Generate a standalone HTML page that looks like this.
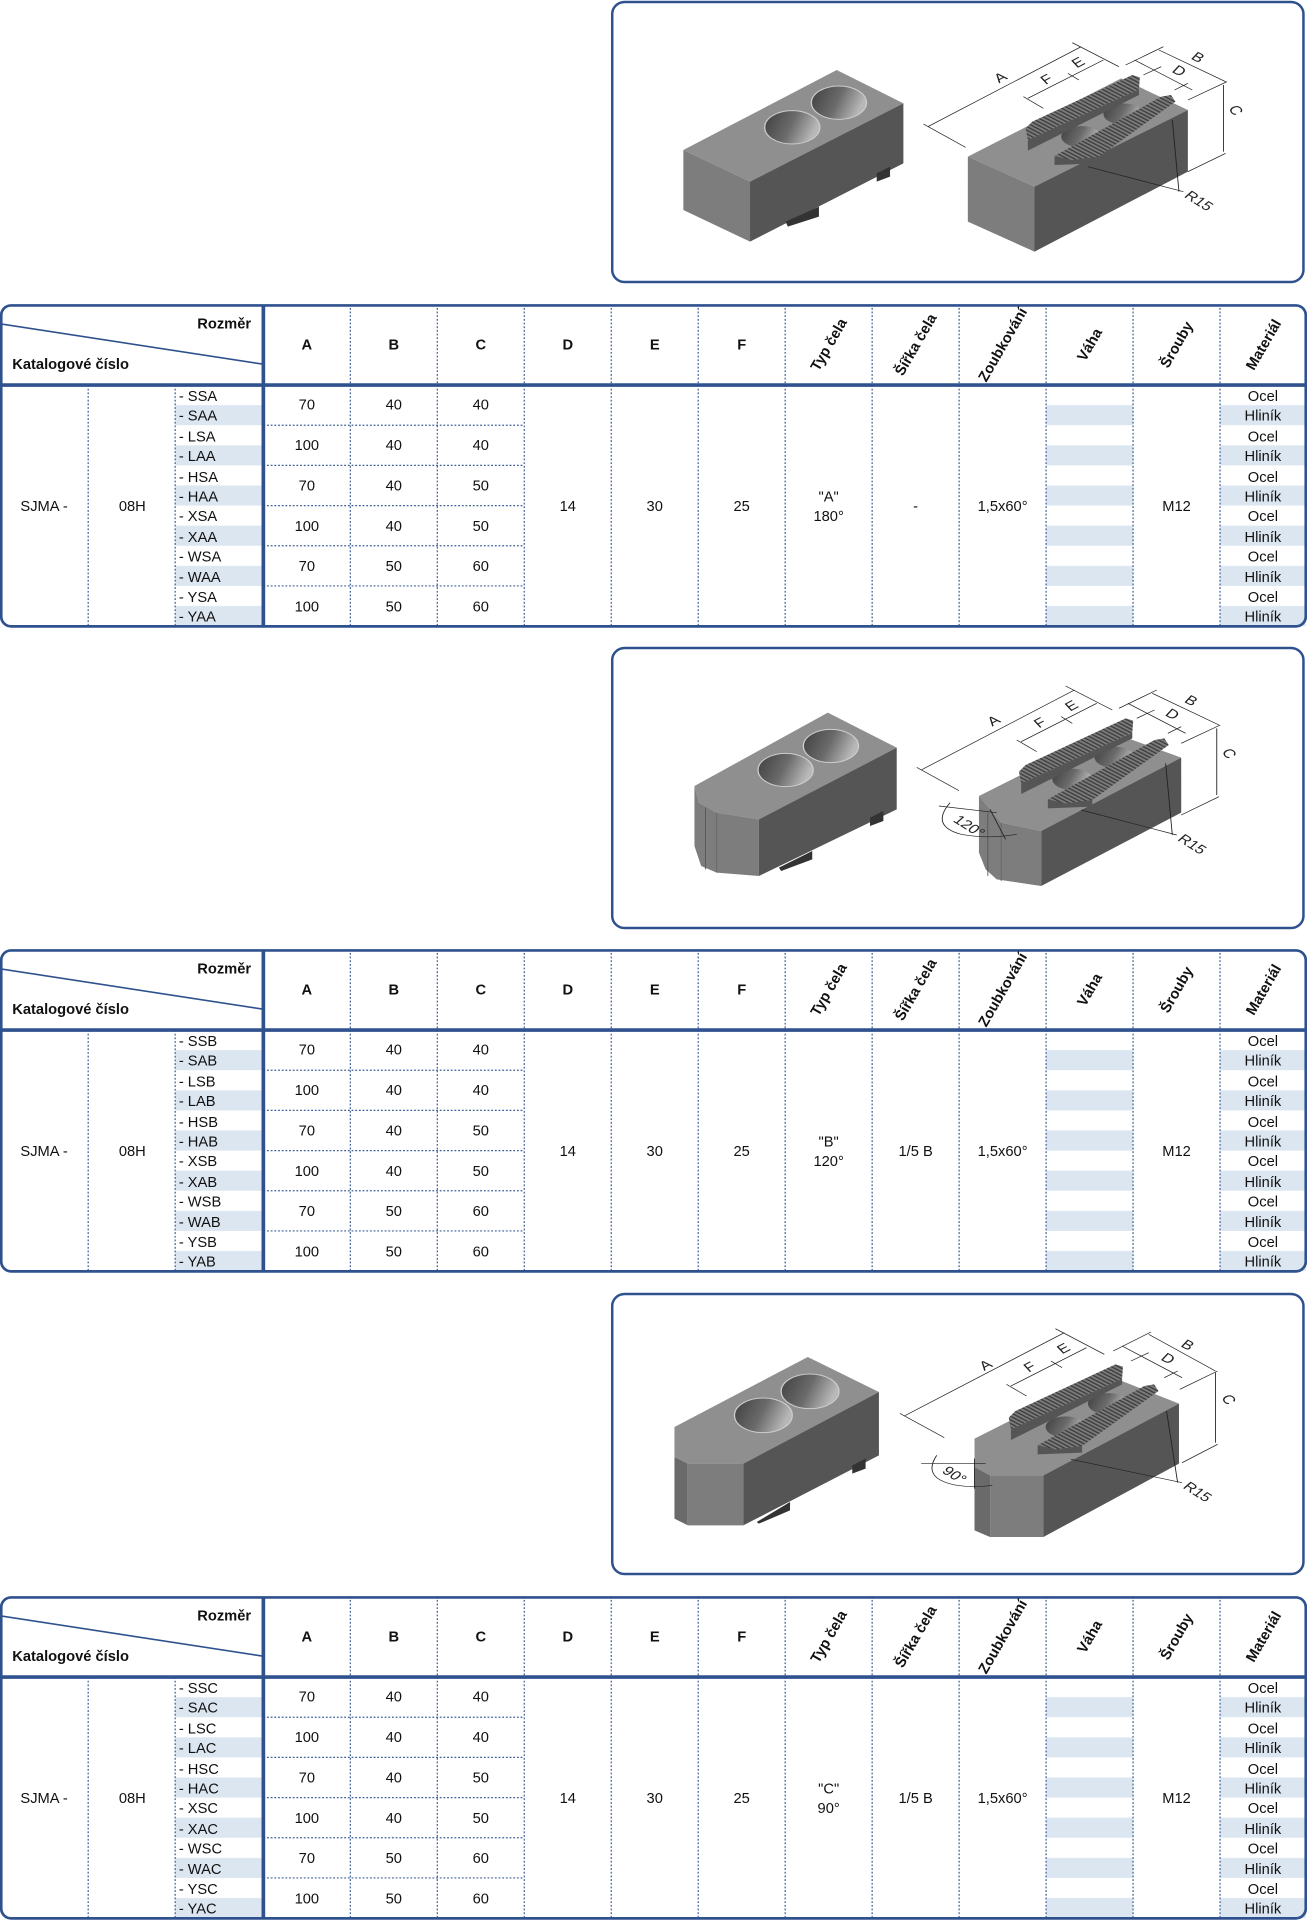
<!DOCTYPE html>
<html><head><meta charset="utf-8"><style>
html,body{margin:0;padding:0;background:#fff}
body{width:1307px;height:1920px;position:relative;overflow:hidden}
svg{position:absolute;left:0}
.t{font-family:"Liberation Sans Narrow","Liberation Sans",sans-serif;font-size:12px;fill:#111}
.b{font-weight:bold}
.dim{font-family:"Liberation Sans",sans-serif;font-size:38px;fill:#222}
</style></head><body>

<svg width="0" height="0" style="position:absolute">
<defs>
<pattern id="stripe" patternUnits="userSpaceOnUse" width="1067" height="32.8" y="66"><rect x="0" y="16.4" width="1067" height="16.4" fill="#dce6f1"/></pattern>
<pattern id="teeth" patternUnits="userSpaceOnUse" width="9" height="9" patternTransform="rotate(-55)"><rect width="9" height="9" fill="#7a7a7a"/><rect width="3.5" height="9" fill="#3a3a3a"/></pattern>
<linearGradient id="hole" x1="0" y1="0" x2="1" y2="0.3"><stop offset="0" stop-color="#3f3f3f"/><stop offset="0.55" stop-color="#6a6a6a"/><stop offset="1" stop-color="#b8b8b8"/></linearGradient>
</defs></svg>

<!-- ================= BOX 1 ================= -->
<svg style="top:0;left:610px" width="697" height="290" viewBox="0 0 1568 870" preserveAspectRatio="none">
<rect x="5" y="6" width="1555" height="840" rx="28" ry="36" fill="#fff" stroke="#2f528f" stroke-width="2.5" vector-effect="non-scaling-stroke"/>
<polygon points="165,450 510,210 660,310 315,545" fill="#8f8f8f"/>
<polygon points="165,450 315,545 315,725 165,630" fill="#7d7d7d"/>
<polygon points="315,545 660,310 660,490 315,725" fill="#555"/>
<polygon points="395,665 470,620 470,650 400,680" fill="#333"/>
<polygon points="600,520 630,500 630,530 600,545" fill="#333"/>
<ellipse cx="410" cy="382" rx="62" ry="50" fill="url(#hole)" stroke="#ccc" stroke-width="3"/>
<ellipse cx="515" cy="308" rx="62" ry="50" fill="url(#hole)" stroke="#ccc" stroke-width="3"/>
<polygon points="805,470 1150,235 1300,330 955,560" fill="#8f8f8f"/>
<polygon points="805,470 955,560 955,755 805,665" fill="#7d7d7d"/>
<polygon points="955,560 1300,330 1300,515 955,755" fill="#555"/>
<ellipse cx="1060" cy="410" rx="45" ry="32" fill="url(#hole)"/>
<ellipse cx="1155" cy="342" rx="45" ry="32" fill="url(#hole)"/>
<polygon points="940,420 1190,268 1190,285 940,452" fill="#555"/>
<polygon points="935,385 950,365 1175,225 1192,232 1190,268 940,420" fill="url(#teeth)"/>
<polygon points="1000,470 1100,470 1100,490 1000,495" fill="#555"/>
<polygon points="1000,468 1240,290 1262,285 1272,305 1100,470 1040,480" fill="url(#teeth)"/>
<g stroke="#222" stroke-width="2" fill="none">
<line x1="715" y1="380" x2="1060" y2="140"/><line x1="705" y1="372" x2="800" y2="442"/><line x1="1040" y1="128" x2="1145" y2="200"/>
<line x1="940" y1="295" x2="1110" y2="180"/><line x1="930" y1="290" x2="975" y2="325"/><line x1="1030" y1="220" x2="1055" y2="240"/>
<line x1="1235" y1="150" x2="1385" y2="245"/><line x1="1160" y1="195" x2="1245" y2="140"/>
<line x1="1180" y1="180" x2="1310" y2="270"/><line x1="1200" y1="225" x2="1240" y2="200"/><line x1="1270" y1="270" x2="1300" y2="250"/>
<line x1="1380" y1="255" x2="1380" y2="455"/><line x1="1300" y1="515" x2="1385" y2="460"/><line x1="1300" y1="300" x2="1388" y2="245"/>
<line x1="1290" y1="575" x2="1075" y2="500"/><line x1="1280" y1="575" x2="1265" y2="360"/>
</g>
<text class="dim" transform="translate(875,250) rotate(-35)">A</text>
<text class="dim" transform="translate(980,255) rotate(-35)">F</text>
<text class="dim" transform="translate(1050,205) rotate(-35)">E</text>
<text class="dim" transform="translate(1305,175) rotate(35)">B</text>
<text class="dim" transform="translate(1262,215) rotate(35)">D</text>
<text class="dim" transform="translate(1390,325) rotate(60)">C</text>
<text class="dim" transform="translate(1290,590) rotate(40)">R15</text>
</svg>

<!-- ================= BOX 2 ================= -->
<svg style="top:646px;left:610px" width="697" height="290" viewBox="0 0 1568 870" preserveAspectRatio="none">
<rect x="5" y="6" width="1555" height="840" rx="28" ry="36" fill="#fff" stroke="#2f528f" stroke-width="2.5" vector-effect="non-scaling-stroke"/>
<polygon points="190,420 490,200 645,305 335,520 240,500 200,470" fill="#8f8f8f"/>
<polygon points="190,420 200,470 240,500 335,520 335,690 240,680 205,660 190,600" fill="#7d7d7d"/>
<line x1="215" y1="485" x2="215" y2="670" stroke="#555" stroke-width="2"/><line x1="240" y1="500" x2="240" y2="680" stroke="#666" stroke-width="2"/>
<polygon points="335,520 645,305 645,490 335,690" fill="#555"/>
<polygon points="380,665 455,615 455,640 385,675" fill="#333"/>
<polygon points="585,515 615,495 615,525 585,540" fill="#333"/>
<ellipse cx="395" cy="372" rx="62" ry="50" fill="url(#hole)" stroke="#ccc" stroke-width="3"/>
<ellipse cx="497" cy="300" rx="62" ry="50" fill="url(#hole)" stroke="#ccc" stroke-width="3"/>
<polygon points="830,450 1120,255 1285,335 970,555 880,530" fill="#8f8f8f"/>
<polygon points="830,450 880,530 970,555 970,720 870,700 845,670 830,620" fill="#7d7d7d"/>
<line x1="850" y1="500" x2="850" y2="690" stroke="#555" stroke-width="2"/><line x1="880" y1="530" x2="880" y2="705" stroke="#666" stroke-width="2"/>
<polygon points="970,555 1285,335 1285,500 970,720" fill="#555"/>
<ellipse cx="1040" cy="400" rx="45" ry="32" fill="url(#hole)"/>
<ellipse cx="1135" cy="334" rx="45" ry="32" fill="url(#hole)"/>
<g transform="translate(-15,-8)">
<polygon points="940,420 1190,268 1190,285 940,452" fill="#555"/>
<polygon points="935,385 950,365 1175,225 1192,232 1190,268 940,420" fill="url(#teeth)"/>
<polygon points="1000,470 1100,470 1100,490 1000,495" fill="#555"/>
<polygon points="1000,468 1240,290 1262,285 1272,305 1100,470 1040,480" fill="url(#teeth)"/>
<g stroke="#222" stroke-width="2" fill="none">
<line x1="715" y1="380" x2="1060" y2="140"/><line x1="705" y1="372" x2="800" y2="442"/><line x1="1040" y1="128" x2="1145" y2="200"/>
<line x1="940" y1="295" x2="1110" y2="180"/><line x1="930" y1="290" x2="975" y2="325"/><line x1="1030" y1="220" x2="1055" y2="240"/>
<line x1="1235" y1="150" x2="1385" y2="245"/><line x1="1160" y1="195" x2="1245" y2="140"/>
<line x1="1180" y1="180" x2="1310" y2="270"/><line x1="1200" y1="225" x2="1240" y2="200"/><line x1="1270" y1="270" x2="1300" y2="250"/>
<line x1="1380" y1="255" x2="1380" y2="455"/><line x1="1300" y1="515" x2="1385" y2="460"/><line x1="1300" y1="300" x2="1388" y2="245"/>
<line x1="1290" y1="575" x2="1075" y2="500"/><line x1="1280" y1="575" x2="1265" y2="360"/>
</g>
<text class="dim" transform="translate(875,250) rotate(-35)">A</text>
<text class="dim" transform="translate(980,255) rotate(-35)">F</text>
<text class="dim" transform="translate(1050,205) rotate(-35)">E</text>
<text class="dim" transform="translate(1305,175) rotate(35)">B</text>
<text class="dim" transform="translate(1262,215) rotate(35)">D</text>
<text class="dim" transform="translate(1390,325) rotate(60)">C</text>
<text class="dim" transform="translate(1290,590) rotate(40)">R15</text>
</g>
<g stroke="#222" stroke-width="2" fill="none">
<path d="M765,470 Q720,540 790,565 Q850,580 915,565"/>
<line x1="740" y1="480" x2="870" y2="500"/><line x1="855" y1="490" x2="890" y2="580"/>
</g>
<text class="dim" transform="translate(770,525) rotate(40)">120°</text>
</svg>

<!-- ================= BOX 3 ================= -->
<svg style="top:1292px;left:610px" width="697" height="290" viewBox="0 0 1568 870" preserveAspectRatio="none">
<rect x="5" y="6" width="1555" height="840" rx="28" ry="36" fill="#fff" stroke="#2f528f" stroke-width="2.5" vector-effect="non-scaling-stroke"/>
<polygon points="145,405 445,195 605,300 300,515 175,515 145,495" fill="#8f8f8f"/>
<polygon points="145,495 175,515 175,700 145,680" fill="#6a6a6a"/>
<polygon points="175,515 300,515 300,700 175,700" fill="#7d7d7d"/>
<polygon points="300,515 605,300 605,490 300,700" fill="#555"/>
<polygon points="330,690 405,630 405,655 335,695" fill="#333"/>
<polygon points="545,520 575,500 575,530 545,545" fill="#333"/>
<ellipse cx="345" cy="370" rx="65" ry="52" fill="url(#hole)" stroke="#ccc" stroke-width="3"/>
<ellipse cx="450" cy="298" rx="65" ry="52" fill="url(#hole)" stroke="#ccc" stroke-width="3"/>
<polygon points="820,440 1110,245 1280,335 975,550 855,550 820,525" fill="#8f8f8f"/>
<polygon points="820,525 855,550 855,735 820,715" fill="#6a6a6a"/>
<polygon points="855,550 975,550 975,735 855,735" fill="#7d7d7d"/>
<polygon points="975,550 1280,335 1280,515 975,735" fill="#555"/>
<ellipse cx="1025" cy="405" rx="45" ry="32" fill="url(#hole)"/>
<ellipse cx="1120" cy="335" rx="45" ry="32" fill="url(#hole)"/>
<g transform="translate(-38,-8)">
<polygon points="940,420 1190,268 1190,285 940,452" fill="#555"/>
<polygon points="935,385 950,365 1175,225 1192,232 1190,268 940,420" fill="url(#teeth)"/>
<polygon points="1000,470 1100,470 1100,490 1000,495" fill="#555"/>
<polygon points="1000,468 1240,290 1262,285 1272,305 1100,470 1040,480" fill="url(#teeth)"/>
<g stroke="#222" stroke-width="2" fill="none">
<line x1="700" y1="380" x2="1060" y2="130"/><line x1="690" y1="372" x2="790" y2="445"/><line x1="1040" y1="118" x2="1150" y2="195"/>
<line x1="940" y1="290" x2="1110" y2="175"/><line x1="930" y1="285" x2="975" y2="320"/><line x1="1030" y1="215" x2="1055" y2="235"/>
<line x1="1250" y1="135" x2="1400" y2="245"/><line x1="1170" y1="185" x2="1255" y2="128"/>
<line x1="1190" y1="170" x2="1325" y2="265"/><line x1="1210" y1="215" x2="1250" y2="190"/><line x1="1285" y1="265" x2="1315" y2="245"/>
<line x1="1400" y1="250" x2="1400" y2="460"/><line x1="1325" y1="520" x2="1405" y2="465"/><line x1="1320" y1="300" x2="1405" y2="245"/>
<line x1="1325" y1="580" x2="1075" y2="510"/><line x1="1315" y1="580" x2="1290" y2="365"/>
</g>
<text class="dim" transform="translate(880,245) rotate(-35)">A</text>
<text class="dim" transform="translate(980,250) rotate(-35)">F</text>
<text class="dim" transform="translate(1055,195) rotate(-35)">E</text>
<text class="dim" transform="translate(1320,170) rotate(35)">B</text>
<text class="dim" transform="translate(1275,210) rotate(35)">D</text>
<text class="dim" transform="translate(1412,325) rotate(60)">C</text>
<text class="dim" transform="translate(1325,595) rotate(40)">R15</text>
</g>
<g stroke="#222" stroke-width="2" fill="none">
<path d="M735,490 Q700,560 780,580 Q820,588 860,580"/>
<line x1="700" y1="515" x2="845" y2="515"/><line x1="820" y1="500" x2="820" y2="590"/>
</g>
<text class="dim" transform="translate(745,540) rotate(40)">90°</text>
</svg>

<!-- ================= TABLE 1 ================= -->
<svg style="top:304px" width="1307" height="325" viewBox="0 0 1067 265">
<rect x="143" y="66" width="72" height="197" fill="url(#stripe)"/>
<rect x="854" y="66" width="71" height="197" fill="url(#stripe)"/>
<rect x="996" y="66" width="70" height="197" fill="url(#stripe)"/>
<g stroke="#3d5f99" stroke-width="1" stroke-dasharray="1.5,1.5">
<line x1="72" y1="66" x2="72" y2="263"/><line x1="143" y1="66" x2="143" y2="263"/>
<line x1="286" y1="0" x2="286" y2="263"/><line x1="357" y1="0" x2="357" y2="263"/><line x1="428" y1="0" x2="428" y2="263"/><line x1="499" y1="0" x2="499" y2="263"/><line x1="570" y1="0" x2="570" y2="263"/><line x1="641" y1="0" x2="641" y2="263"/><line x1="712" y1="0" x2="712" y2="263"/><line x1="783" y1="0" x2="783" y2="263"/><line x1="854" y1="0" x2="854" y2="263"/><line x1="925" y1="0" x2="925" y2="263"/><line x1="996" y1="0" x2="996" y2="263"/>
<line x1="215" y1="98.8" x2="428" y2="98.8"/><line x1="215" y1="131.6" x2="428" y2="131.6"/><line x1="215" y1="164.4" x2="428" y2="164.4"/><line x1="215" y1="197.2" x2="428" y2="197.2"/><line x1="215" y1="230" x2="428" y2="230"/>
</g>
<line x1="0" y1="16" x2="215" y2="49" stroke="#2f528f" stroke-width="1.3"/>
<line x1="0" y1="66" x2="1067" y2="66" stroke="#2f528f" stroke-width="3"/>
<line x1="215" y1="1" x2="215" y2="263" stroke="#2f528f" stroke-width="3"/>
<rect x="1" y="1" width="1065" height="262" rx="8" fill="none" stroke="#2f528f" stroke-width="2.2"/>
<text class="t b" x="205" y="20" text-anchor="end">Rozměr</text>
<text class="t b" x="10" y="53">Katalogové číslo</text>
<g class="t b" text-anchor="middle"><text x="250.5" y="37">A</text><text x="321.5" y="37">B</text><text x="392.5" y="37">C</text><text x="463.5" y="37">D</text><text x="534.5" y="37">E</text><text x="605.5" y="37">F</text></g>
<g class="t b" text-anchor="middle"><text transform="translate(680,35) rotate(-60)">Typ čela</text><text transform="translate(751,35) rotate(-60)">Šířka čela</text><text transform="translate(822,35) rotate(-60)">Zoubkování</text><text transform="translate(893,35) rotate(-60)">Váha</text><text transform="translate(964,35) rotate(-60)">Šrouby</text><text transform="translate(1035,35) rotate(-60)">Materiál</text></g>
<g class="t"><text x="146" y="79">- SSA</text><text x="146" y="95">- SAA</text><text x="146" y="112">- LSA</text><text x="146" y="128">- LAA</text><text x="146" y="145">- HSA</text><text x="146" y="161">- HAA</text><text x="146" y="177">- XSA</text><text x="146" y="194">- XAA</text><text x="146" y="210">- WSA</text><text x="146" y="227">- WAA</text><text x="146" y="243">- YSA</text><text x="146" y="259">- YAA</text></g>
<g class="t" text-anchor="middle">
<text x="1031" y="79">Ocel</text><text x="1031" y="95">Hliník</text><text x="1031" y="112">Ocel</text><text x="1031" y="128">Hliník</text><text x="1031" y="145">Ocel</text><text x="1031" y="161">Hliník</text><text x="1031" y="177">Ocel</text><text x="1031" y="194">Hliník</text><text x="1031" y="210">Ocel</text><text x="1031" y="227">Hliník</text><text x="1031" y="243">Ocel</text><text x="1031" y="259">Hliník</text>
<text x="250.5" y="86">70</text><text x="321.5" y="86">40</text><text x="392.5" y="86">40</text>
<text x="250.5" y="119">100</text><text x="321.5" y="119">40</text><text x="392.5" y="119">40</text>
<text x="250.5" y="152">70</text><text x="321.5" y="152">40</text><text x="392.5" y="152">50</text>
<text x="250.5" y="185">100</text><text x="321.5" y="185">40</text><text x="392.5" y="185">50</text>
<text x="250.5" y="218">70</text><text x="321.5" y="218">50</text><text x="392.5" y="218">60</text>
<text x="250.5" y="251">100</text><text x="321.5" y="251">50</text><text x="392.5" y="251">60</text>
<text x="36" y="169">SJMA -</text><text x="108" y="169">08H</text>
<text x="463.5" y="169">14</text><text x="534.5" y="169">30</text><text x="605.5" y="169">25</text>
<text x="676.5" y="161">"A"</text><text x="676.5" y="177">180°</text>
<text x="747.5" y="169">-</text><text x="818.5" y="169">1,5x60°</text><text x="960.5" y="169">M12</text>
</g>
</svg>

<!-- ================= TABLE 2 ================= -->
<svg style="top:949px" width="1307" height="325" viewBox="0 0 1067 265">
<rect x="143" y="66" width="72" height="197" fill="url(#stripe)"/>
<rect x="854" y="66" width="71" height="197" fill="url(#stripe)"/>
<rect x="996" y="66" width="70" height="197" fill="url(#stripe)"/>
<g stroke="#3d5f99" stroke-width="1" stroke-dasharray="1.5,1.5">
<line x1="72" y1="66" x2="72" y2="263"/><line x1="143" y1="66" x2="143" y2="263"/>
<line x1="286" y1="0" x2="286" y2="263"/><line x1="357" y1="0" x2="357" y2="263"/><line x1="428" y1="0" x2="428" y2="263"/><line x1="499" y1="0" x2="499" y2="263"/><line x1="570" y1="0" x2="570" y2="263"/><line x1="641" y1="0" x2="641" y2="263"/><line x1="712" y1="0" x2="712" y2="263"/><line x1="783" y1="0" x2="783" y2="263"/><line x1="854" y1="0" x2="854" y2="263"/><line x1="925" y1="0" x2="925" y2="263"/><line x1="996" y1="0" x2="996" y2="263"/>
<line x1="215" y1="98.8" x2="428" y2="98.8"/><line x1="215" y1="131.6" x2="428" y2="131.6"/><line x1="215" y1="164.4" x2="428" y2="164.4"/><line x1="215" y1="197.2" x2="428" y2="197.2"/><line x1="215" y1="230" x2="428" y2="230"/>
</g>
<line x1="0" y1="16" x2="215" y2="49" stroke="#2f528f" stroke-width="1.3"/>
<line x1="0" y1="66" x2="1067" y2="66" stroke="#2f528f" stroke-width="3"/>
<line x1="215" y1="1" x2="215" y2="263" stroke="#2f528f" stroke-width="3"/>
<rect x="1" y="1" width="1065" height="262" rx="8" fill="none" stroke="#2f528f" stroke-width="2.2"/>
<text class="t b" x="205" y="20" text-anchor="end">Rozměr</text>
<text class="t b" x="10" y="53">Katalogové číslo</text>
<g class="t b" text-anchor="middle"><text x="250.5" y="37">A</text><text x="321.5" y="37">B</text><text x="392.5" y="37">C</text><text x="463.5" y="37">D</text><text x="534.5" y="37">E</text><text x="605.5" y="37">F</text></g>
<g class="t b" text-anchor="middle"><text transform="translate(680,35) rotate(-60)">Typ čela</text><text transform="translate(751,35) rotate(-60)">Šířka čela</text><text transform="translate(822,35) rotate(-60)">Zoubkování</text><text transform="translate(893,35) rotate(-60)">Váha</text><text transform="translate(964,35) rotate(-60)">Šrouby</text><text transform="translate(1035,35) rotate(-60)">Materiál</text></g>
<g class="t"><text x="146" y="79">- SSB</text><text x="146" y="95">- SAB</text><text x="146" y="112">- LSB</text><text x="146" y="128">- LAB</text><text x="146" y="145">- HSB</text><text x="146" y="161">- HAB</text><text x="146" y="177">- XSB</text><text x="146" y="194">- XAB</text><text x="146" y="210">- WSB</text><text x="146" y="227">- WAB</text><text x="146" y="243">- YSB</text><text x="146" y="259">- YAB</text></g>
<g class="t" text-anchor="middle">
<text x="1031" y="79">Ocel</text><text x="1031" y="95">Hliník</text><text x="1031" y="112">Ocel</text><text x="1031" y="128">Hliník</text><text x="1031" y="145">Ocel</text><text x="1031" y="161">Hliník</text><text x="1031" y="177">Ocel</text><text x="1031" y="194">Hliník</text><text x="1031" y="210">Ocel</text><text x="1031" y="227">Hliník</text><text x="1031" y="243">Ocel</text><text x="1031" y="259">Hliník</text>
<text x="250.5" y="86">70</text><text x="321.5" y="86">40</text><text x="392.5" y="86">40</text>
<text x="250.5" y="119">100</text><text x="321.5" y="119">40</text><text x="392.5" y="119">40</text>
<text x="250.5" y="152">70</text><text x="321.5" y="152">40</text><text x="392.5" y="152">50</text>
<text x="250.5" y="185">100</text><text x="321.5" y="185">40</text><text x="392.5" y="185">50</text>
<text x="250.5" y="218">70</text><text x="321.5" y="218">50</text><text x="392.5" y="218">60</text>
<text x="250.5" y="251">100</text><text x="321.5" y="251">50</text><text x="392.5" y="251">60</text>
<text x="36" y="169">SJMA -</text><text x="108" y="169">08H</text>
<text x="463.5" y="169">14</text><text x="534.5" y="169">30</text><text x="605.5" y="169">25</text>
<text x="676.5" y="161">"B"</text><text x="676.5" y="177">120°</text>
<text x="747.5" y="169">1/5 B</text><text x="818.5" y="169">1,5x60°</text><text x="960.5" y="169">M12</text>
</g>
</svg>

<!-- ================= TABLE 3 ================= -->
<svg style="top:1596px" width="1307" height="325" viewBox="0 0 1067 265">
<rect x="143" y="66" width="72" height="197" fill="url(#stripe)"/>
<rect x="854" y="66" width="71" height="197" fill="url(#stripe)"/>
<rect x="996" y="66" width="70" height="197" fill="url(#stripe)"/>
<g stroke="#3d5f99" stroke-width="1" stroke-dasharray="1.5,1.5">
<line x1="72" y1="66" x2="72" y2="263"/><line x1="143" y1="66" x2="143" y2="263"/>
<line x1="286" y1="0" x2="286" y2="263"/><line x1="357" y1="0" x2="357" y2="263"/><line x1="428" y1="0" x2="428" y2="263"/><line x1="499" y1="0" x2="499" y2="263"/><line x1="570" y1="0" x2="570" y2="263"/><line x1="641" y1="0" x2="641" y2="263"/><line x1="712" y1="0" x2="712" y2="263"/><line x1="783" y1="0" x2="783" y2="263"/><line x1="854" y1="0" x2="854" y2="263"/><line x1="925" y1="0" x2="925" y2="263"/><line x1="996" y1="0" x2="996" y2="263"/>
<line x1="215" y1="98.8" x2="428" y2="98.8"/><line x1="215" y1="131.6" x2="428" y2="131.6"/><line x1="215" y1="164.4" x2="428" y2="164.4"/><line x1="215" y1="197.2" x2="428" y2="197.2"/><line x1="215" y1="230" x2="428" y2="230"/>
</g>
<line x1="0" y1="16" x2="215" y2="49" stroke="#2f528f" stroke-width="1.3"/>
<line x1="0" y1="66" x2="1067" y2="66" stroke="#2f528f" stroke-width="3"/>
<line x1="215" y1="1" x2="215" y2="263" stroke="#2f528f" stroke-width="3"/>
<rect x="1" y="1" width="1065" height="262" rx="8" fill="none" stroke="#2f528f" stroke-width="2.2"/>
<text class="t b" x="205" y="20" text-anchor="end">Rozměr</text>
<text class="t b" x="10" y="53">Katalogové číslo</text>
<g class="t b" text-anchor="middle"><text x="250.5" y="37">A</text><text x="321.5" y="37">B</text><text x="392.5" y="37">C</text><text x="463.5" y="37">D</text><text x="534.5" y="37">E</text><text x="605.5" y="37">F</text></g>
<g class="t b" text-anchor="middle"><text transform="translate(680,35) rotate(-60)">Typ čela</text><text transform="translate(751,35) rotate(-60)">Šířka čela</text><text transform="translate(822,35) rotate(-60)">Zoubkování</text><text transform="translate(893,35) rotate(-60)">Váha</text><text transform="translate(964,35) rotate(-60)">Šrouby</text><text transform="translate(1035,35) rotate(-60)">Materiál</text></g>
<g class="t"><text x="146" y="79">- SSC</text><text x="146" y="95">- SAC</text><text x="146" y="112">- LSC</text><text x="146" y="128">- LAC</text><text x="146" y="145">- HSC</text><text x="146" y="161">- HAC</text><text x="146" y="177">- XSC</text><text x="146" y="194">- XAC</text><text x="146" y="210">- WSC</text><text x="146" y="227">- WAC</text><text x="146" y="243">- YSC</text><text x="146" y="259">- YAC</text></g>
<g class="t" text-anchor="middle">
<text x="1031" y="79">Ocel</text><text x="1031" y="95">Hliník</text><text x="1031" y="112">Ocel</text><text x="1031" y="128">Hliník</text><text x="1031" y="145">Ocel</text><text x="1031" y="161">Hliník</text><text x="1031" y="177">Ocel</text><text x="1031" y="194">Hliník</text><text x="1031" y="210">Ocel</text><text x="1031" y="227">Hliník</text><text x="1031" y="243">Ocel</text><text x="1031" y="259">Hliník</text>
<text x="250.5" y="86">70</text><text x="321.5" y="86">40</text><text x="392.5" y="86">40</text>
<text x="250.5" y="119">100</text><text x="321.5" y="119">40</text><text x="392.5" y="119">40</text>
<text x="250.5" y="152">70</text><text x="321.5" y="152">40</text><text x="392.5" y="152">50</text>
<text x="250.5" y="185">100</text><text x="321.5" y="185">40</text><text x="392.5" y="185">50</text>
<text x="250.5" y="218">70</text><text x="321.5" y="218">50</text><text x="392.5" y="218">60</text>
<text x="250.5" y="251">100</text><text x="321.5" y="251">50</text><text x="392.5" y="251">60</text>
<text x="36" y="169">SJMA -</text><text x="108" y="169">08H</text>
<text x="463.5" y="169">14</text><text x="534.5" y="169">30</text><text x="605.5" y="169">25</text>
<text x="676.5" y="161">"C"</text><text x="676.5" y="177">90°</text>
<text x="747.5" y="169">1/5 B</text><text x="818.5" y="169">1,5x60°</text><text x="960.5" y="169">M12</text>
</g>
</svg>

</body></html>
